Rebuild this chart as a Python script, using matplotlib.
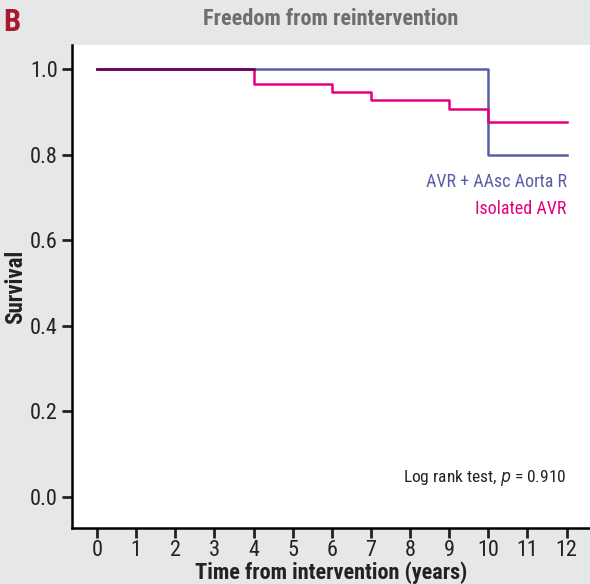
import matplotlib
matplotlib.use('Agg')
import matplotlib.pyplot as plt
import numpy as np

plt.rcParams['font.family'] = ['Roboto Condensed', 'Liberation Sans Narrow', 'DejaVu Sans']
plt.rcParams['font.stretch'] = 'condensed'

# Kaplan-Meier steps
years = [0, 4, 6, 7, 9, 10, 12]
isolated_avr = [1.0, 0.965, 0.947, 0.928, 0.906, 0.876, 0.876]
avr_aasc = [1.0, 1.0, 1.0, 1.0, 1.0, 0.8, 0.8]

x_ticks = list(range(0, 13))
y_ticks = [0.0, 0.2, 0.4, 0.6, 0.8, 1.0]

pink = '#e5007e'
blue = '#5b5ea6'
dark = '#5a0a5e'
bg = '#e6e7e8'

fig = plt.figure(figsize=(5.9, 5.84), dpi=100)
fig.patch.set_facecolor(bg)
ax = fig.add_axes([0.122, 0.096, 0.878, 0.827])
ax.set_facecolor('white')

ax.step(years, avr_aasc, where='post', color=blue, lw=1.8)
ax.step(years, isolated_avr, where='post', color=pink, lw=1.8)
# where both curves coincide the print shows a dark overlap
same = np.where(np.isclose(isolated_avr, avr_aasc), isolated_avr, np.nan)
ax.step(years, same, where='post', color=dark, lw=1.8)

ax.set_xlim(-0.64, 12.6)
ax.set_ylim(-0.072, 1.056)
ax.set_xticks(x_ticks)
ax.set_yticks(y_ticks)
ax.set_yticklabels([f'{v:.1f}' for v in y_ticks])
ax.tick_params(axis='both', direction='out', length=7, width=2, color='#222222',
               labelsize=16, pad=3, labelcolor='#222222')
ax.tick_params(axis='x', pad=2)

for s in ['top', 'right']:
    ax.spines[s].set_visible(False)
for s in ['left', 'bottom']:
    ax.spines[s].set_linewidth(1.8)

ax.set_xlabel('Time from intervention (years)', fontsize=16, fontweight='bold',
              labelpad=0, color='#222222')
ax.set_ylabel('Survival', fontsize=16.5, fontweight='bold', labelpad=2, color='#222222')

ax.text(12, 0.735, 'AVR + AAsc Aorta R', color=blue, fontsize=13, ha='right', va='center')
ax.text(12, 0.672, 'Isolated AVR', color=pink, fontsize=13, ha='right', va='center')
ax.text(12, 0.045, 'Log rank test, $\\it{p}$ = 0.910', color='#222222', fontsize=12.5,
        ha='right', va='center')

fig.text(0.56, 0.968, 'Freedom from reintervention', color='#6d6e70', fontsize=16,
         fontweight='bold', ha='center', va='center')
fig.text(0.005, 0.963, 'B', color='#a6192e', fontsize=22, fontweight='bold',
         ha='left', va='center')

fig.savefig('out.png', dpi=100, facecolor=fig.get_facecolor())
